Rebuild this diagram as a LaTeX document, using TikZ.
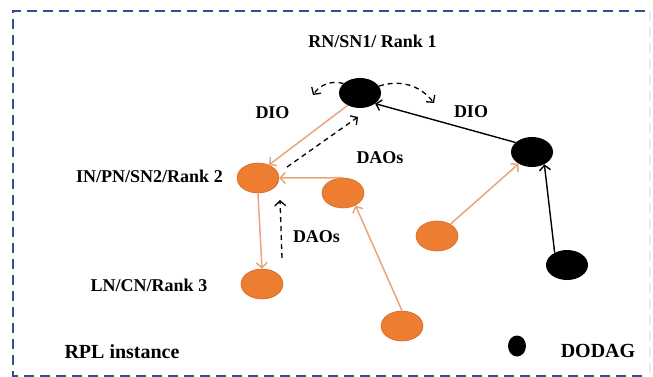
\documentclass[tikz,border=0pt]{standalone}
\usepackage{fontspec}
\setmainfont{Liberation Serif}
\usetikzlibrary{arrows.meta,shapes.geometric}
\definecolor{bordblue}{HTML}{2F528F}
\definecolor{nodeor}{HTML}{ED7D31}
\definecolor{nodeoredge}{HTML}{D26A25}
\definecolor{tanline}{HTML}{E8A57C}
\begin{document}
\begin{tikzpicture}[x=1pt,y=1pt,
  nd/.style={ellipse, minimum width=42pt, minimum height=30pt, inner sep=0pt},
  bnode/.style={nd, fill=black},
  onode/.style={nd, fill=nodeor, draw=nodeoredge, line width=0.6pt},
  lbl/.style={font=\bfseries\fontsize{18}{20}\selectfont, inner sep=0pt, anchor=base},
  biglbl/.style={lbl, font=\bfseries\fontsize{20}{22}\selectfont},
  tip/.style={-{Straight Barb[length=5pt,width=11pt]}},
  tanarr/.style={draw=tanline, line width=1.5pt, tip},
  blkarr/.style={draw=black, line width=1.4pt, tip},
  dasharr/.style={draw=black, line width=1.3pt, dash pattern=on 5pt off 4pt, tip},
  border/.style={draw=bordblue, line width=2pt, dash pattern=on 10pt off 6pt}
]
\useasboundingbox (0,0) rectangle (653,-377);
% frame
\coordinate (f1) at (13,-11);
\coordinate (f2) at (645,-11);
\coordinate (f3) at (645,-376);
\coordinate (f4) at (13,-376);
\draw[border] (f2) -- (f1) -- (f4) -- (f3);
\draw[draw=bordblue!12, line width=1.5pt, dash pattern=on 10pt off 6pt] (650,-11) -- (650,-376);

% nodes
\node[bnode] (root) at (360,-93) {};
\node[bnode] (rb) at (532,-152) {};
\node[bnode] (brb) at (567,-265) {};
\node[fill=black, ellipse, minimum width=18pt, minimum height=21pt, inner sep=0pt] (leg) at (517,-346) {};
\node[onode] (in) at (258,-178) {};
\node[onode] (o2) at (343,-193) {};
\node[onode] (ln) at (262,-284) {};
\node[onode] (o3) at (437,-236) {};
\node[onode] (ob) at (402,-326) {};

% labels
\node[lbl] (t1) at (372.5,-48) {RN/SN1/ Rank 1};
\node[lbl] (t2) at (272.5,-119) {DIO};
\node[lbl] (t3) at (471,-118) {DIO};
\node[lbl] (t4) at (380,-163) {DAOs};
\node[lbl] (t5) at (316.5,-242) {DAOs};
\node[lbl] (t6) at (149.5,-182) {IN/PN/SN2/Rank 2};
\node[lbl] (t7) at (149,-291) {LN/CN/Rank 3};
\node[biglbl] (t8) at (122,-358) {RPL instance};
\node[biglbl] (t9) at (598,-357) {DODAG};

% free coordinates
\coordinate (d1s) at (287,-167);
\coordinate (d1e) at (358,-117);
\coordinate (d2s) at (282,-258);
\coordinate (d2e) at (280,-200);
\coordinate (a1) at (313,-95);
\coordinate (a2) at (434,-103);

% connectors
\draw[tanarr] (root.225) -- (in.50);
\draw[tanarr] (o2.north) -- (in.east);
\draw[tanarr] (ob.north) -- (o2.-45);
\draw[tanarr] (in.south) -- (ln.north);
\draw[tanarr] (o3) -- (rb);
\draw[blkarr] (rb.150) -- (root.-35);
\draw[blkarr] (brb.135) -- (rb.-45);
\draw[dasharr] (d1s) -- (d1e);
\draw[dasharr] (d2s) -- (d2e);
\draw[dasharr] (root.150) to[bend right=35] (a1);
\draw[dasharr] (root.20) to[bend left=35] (a2);
\end{tikzpicture}
\end{document}
